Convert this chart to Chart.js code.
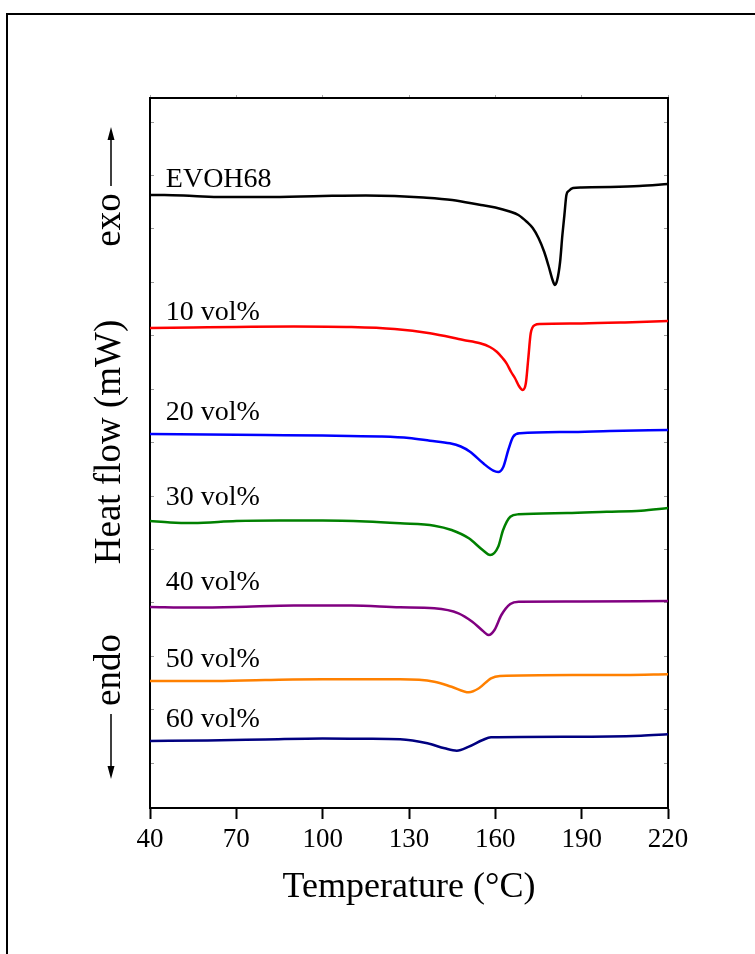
<!DOCTYPE html>
<html>
<head>
<meta charset="utf-8">
<script src="https://cdn.jsdelivr.net/npm/chart.js@4.4.1/dist/chart.umd.min.js"></script>
<style>
  html, body { margin: 0; padding: 0; background: #fff; }
  #wrap { position: relative; width: 755px; height: 954px; overflow: hidden; }
  canvas { position: absolute; left: 0; top: 0; }
</style>
</head>
<body>
<div id="wrap"><canvas id="c" width="755" height="954"></canvas></div>
<script>
// ---- Data (temperature in °C, heat flow in arbitrary stacked units) ----
const xTicks = [40, 70, 100, 130, 160, 190, 220];
const yMinorTicks = [4.5, 9.84, 15.18, 20.52, 25.86, 31.2, 36.54, 41.88, 47.22, 52.56, 57.9, 63.24, 68.58];

const seriesNames = ["EVOH68", "10 vol%", "20 vol%", "30 vol%", "40 vol%", "50 vol%", "60 vol%"];
const seriesColors = ["#000000", "#ff0000", "#0000ff", "#008000", "#800080", "#ff8000", "#000080"];
const labelY = [62.8, 49.5, 39.5, 31.0, 22.5, 14.8, 8.8];
const labelX = 45.5;

const tEVOH = [40, 45, 55, 65, 80, 100, 115, 125, 135, 145, 155, 160, 165, 168, 171, 173, 175, 177, 178.5, 180, 180.7, 181.5, 182.5, 183.3, 184, 184.7, 185.5, 187, 190, 200, 210, 220];
const hEVOH = [61.3, 61.3, 61.2, 61.1, 61.1, 61.2, 61.25, 61.2, 61.05, 60.8, 60.3, 60.05, 59.65, 59.3, 58.6, 58.0, 57.0, 55.6, 54.2, 52.7, 52.3, 52.8, 54.6, 57.3, 59.3, 61.3, 61.7, 62.0, 62.05, 62.1, 62.2, 62.4];

const t10 = [40, 55, 70, 90, 110, 125, 137.3, 148.9, 154.7, 158.1, 160.5, 162.5, 163.9, 165.5, 166.8, 168.2, 169.5, 170.6, 171.4, 172.3, 173.8, 175.5, 190, 205, 220];
const h10 = [48.0, 48.05, 48.1, 48.15, 48.1, 47.9, 47.47, 46.8, 46.47, 46.1, 45.63, 45.0, 44.47, 43.6, 43.0, 42.2, 41.8, 42.47, 44.8, 47.47, 48.3, 48.4, 48.45, 48.55, 48.7];

const t20 = [40, 60, 80, 100, 120, 130, 137.3, 144.2, 148, 151.2, 155.8, 159.3, 161, 162.8, 164.5, 166.2, 168.6, 185, 199.8, 220];
const h20 = [37.4, 37.35, 37.3, 37.25, 37.15, 37.0, 36.73, 36.47, 36.15, 35.63, 34.47, 33.73, 33.6, 34.13, 35.8, 37.13, 37.47, 37.6, 37.7, 37.8];

const t30 = [40, 47, 55, 70, 85, 100, 115, 126.9, 138.8, 144.8, 150.8, 155.6, 158.2, 161, 162.7, 165.2, 168.1, 185, 198.7, 210.6, 220];
const h30 = [28.7, 28.55, 28.5, 28.7, 28.75, 28.75, 28.65, 28.47, 28.23, 27.8, 26.97, 25.8, 25.3, 26.13, 27.8, 29.13, 29.37, 29.5, 29.63, 29.73, 30.0];

const t40 = [40, 55, 70, 90, 110, 126.9, 138.8, 147.2, 152, 155.6, 157.7, 159.7, 162.1, 165.2, 168.1, 190, 220];
const h40 = [20.1, 20.05, 20.1, 20.25, 20.25, 20.07, 19.97, 19.47, 18.63, 17.73, 17.3, 17.8, 19.3, 20.4, 20.63, 20.65, 20.7];

const t50 = [40, 60, 80, 100, 115, 126.9, 138.8, 144.8, 150.8, 154.3, 158.5, 161.6, 186.7, 205, 220];
const h50 = [12.7, 12.7, 12.8, 12.87, 12.87, 12.87, 12.63, 12.13, 11.57, 11.97, 12.97, 13.2, 13.3, 13.3, 13.37];

const t60 = [40, 60, 80, 100, 115, 126.9, 136.4, 142.4, 146.6, 150.8, 155.6, 158.5, 186.7, 210.6, 220];
const h60 = [6.7, 6.75, 6.85, 6.95, 6.92, 6.87, 6.47, 5.97, 5.73, 6.13, 6.8, 7.07, 7.13, 7.23, 7.37];

const allT = [tEVOH, t10, t20, t30, t40, t50, t60];
const allH = [hEVOH, h10, h20, h30, h40, h50, h60];

const FONT = "'Liberation Serif', 'Times New Roman', serif";

const datasets = allT.map((ts, i) => ({
  label: seriesNames[i],
  data: ts.map((t, j) => ({ x: t, y: allH[i][j] })),
  borderColor: seriesColors[i],
  backgroundColor: seriesColors[i],
  borderWidth: 2.5,
  pointRadius: 0,
  cubicInterpolationMode: 'monotone',
  fill: false
}));

const decor = {
  id: 'decor',
  beforeDraw(chart) {
    const ctx = chart.ctx;
    ctx.save();
    ctx.fillStyle = '#fff';
    ctx.fillRect(0, 0, chart.width, chart.height);
    ctx.strokeStyle = '#000';
    ctx.lineWidth = 2;
    ctx.strokeRect(7, 14, 900, 1100);
    ctx.restore();
  },
  afterDraw(chart) {
    const ctx = chart.ctx;
    const xs = chart.scales.x, ys = chart.scales.y;
    const ca = chart.chartArea;
    ctx.save();
    // series labels
    ctx.fillStyle = '#000';
    ctx.font = "28px " + FONT;
    ctx.textAlign = 'left';
    ctx.textBaseline = 'middle';
    seriesNames.forEach((n, i) => {
      ctx.fillText(n, xs.getPixelForValue(labelX), ys.getPixelForValue(labelY[i]));
    });
    // x title
    ctx.font = "36px " + FONT;
    ctx.textAlign = 'center';
    ctx.textBaseline = 'middle';
    ctx.fillText("Temperature (°C)", (ca.left + ca.right) / 2, 888);
    // y title and exo/endo
    ctx.font = "37px " + FONT;
    const cx = 110;
    ctx.save();
    ctx.translate(cx, 442);
    ctx.rotate(-Math.PI / 2);
    ctx.fillText("Heat flow (mW)", 0, 0);
    ctx.restore();
    ctx.save();
    ctx.translate(cx, 220);
    ctx.rotate(-Math.PI / 2);
    ctx.fillText("exo", 0, 0);
    ctx.restore();
    ctx.save();
    ctx.translate(cx, 670);
    ctx.rotate(-Math.PI / 2);
    ctx.fillText("endo", 0, 0);
    ctx.restore();
    // arrows
    const ax = cx + 1;
    ctx.strokeStyle = '#000';
    ctx.lineWidth = 1.5;
    ctx.beginPath();
    ctx.moveTo(ax, 186); ctx.lineTo(ax, 138);
    ctx.moveTo(ax, 714); ctx.lineTo(ax, 768);
    ctx.stroke();
    ctx.beginPath();
    ctx.moveTo(ax, 127); ctx.lineTo(ax - 3.5, 140); ctx.lineTo(ax + 3.5, 140); ctx.closePath();
    ctx.moveTo(ax, 779); ctx.lineTo(ax - 3.5, 766); ctx.lineTo(ax + 3.5, 766); ctx.closePath();
    ctx.fill();
    ctx.restore();
  }
};

new Chart(document.getElementById('c'), {
  type: 'line',
  data: { datasets },
  plugins: [decor],
  options: {
    responsive: false,
    animation: false,
    devicePixelRatio: 1,
    layout: { padding: { top: 98, right: 87, left: 0, bottom: 0 } },
    plugins: { legend: { display: false }, tooltip: { enabled: false } },
    scales: {
      x: {
        type: 'linear', position: 'bottom', min: 40, max: 220,
        afterBuildTicks: s => { s.ticks = xTicks.map(v => ({ value: v })); },
        ticks: { color: '#000', font: { family: FONT, size: 27 }, padding: 5, maxRotation: 0 },
        grid: { drawOnChartArea: false, drawTicks: true, tickLength: 11, color: '#000', tickWidth: 2 },
        border: { display: true, color: '#000', width: 2 },
        afterFit: s => { s.height = 146; }
      },
      x2: {
        type: 'linear', position: 'top', min: 40, max: 220,
        afterBuildTicks: s => { s.ticks = xTicks.map(v => ({ value: v })); },
        ticks: { display: false },
        grid: { drawOnChartArea: false, drawTicks: true, tickLength: 3, color: '#aaa', tickWidth: 1 },
        border: { display: true, color: '#000', width: 2 },
        afterFit: s => { s.height = 0; }
      },
      y: {
        type: 'linear', position: 'left', min: 0, max: 71,
        afterBuildTicks: s => { s.ticks = yMinorTicks.map(v => ({ value: v })); },
        ticks: { display: false },
        grid: { drawOnChartArea: false, drawTicks: true, tickLength: -4, color: '#999', tickWidth: 1 },
        border: { display: true, color: '#000', width: 2 },
        afterFit: s => { s.width = 150; }
      },
      y2: {
        type: 'linear', position: 'right', min: 0, max: 71,
        afterBuildTicks: s => { s.ticks = yMinorTicks.map(v => ({ value: v })); },
        ticks: { display: false },
        grid: { drawOnChartArea: false, drawTicks: true, tickLength: -4, color: '#999', tickWidth: 1 },
        border: { display: true, color: '#000', width: 2 },
        afterFit: s => { s.width = 0; }
      }
    }
  }
});
</script>
</body>
</html>
